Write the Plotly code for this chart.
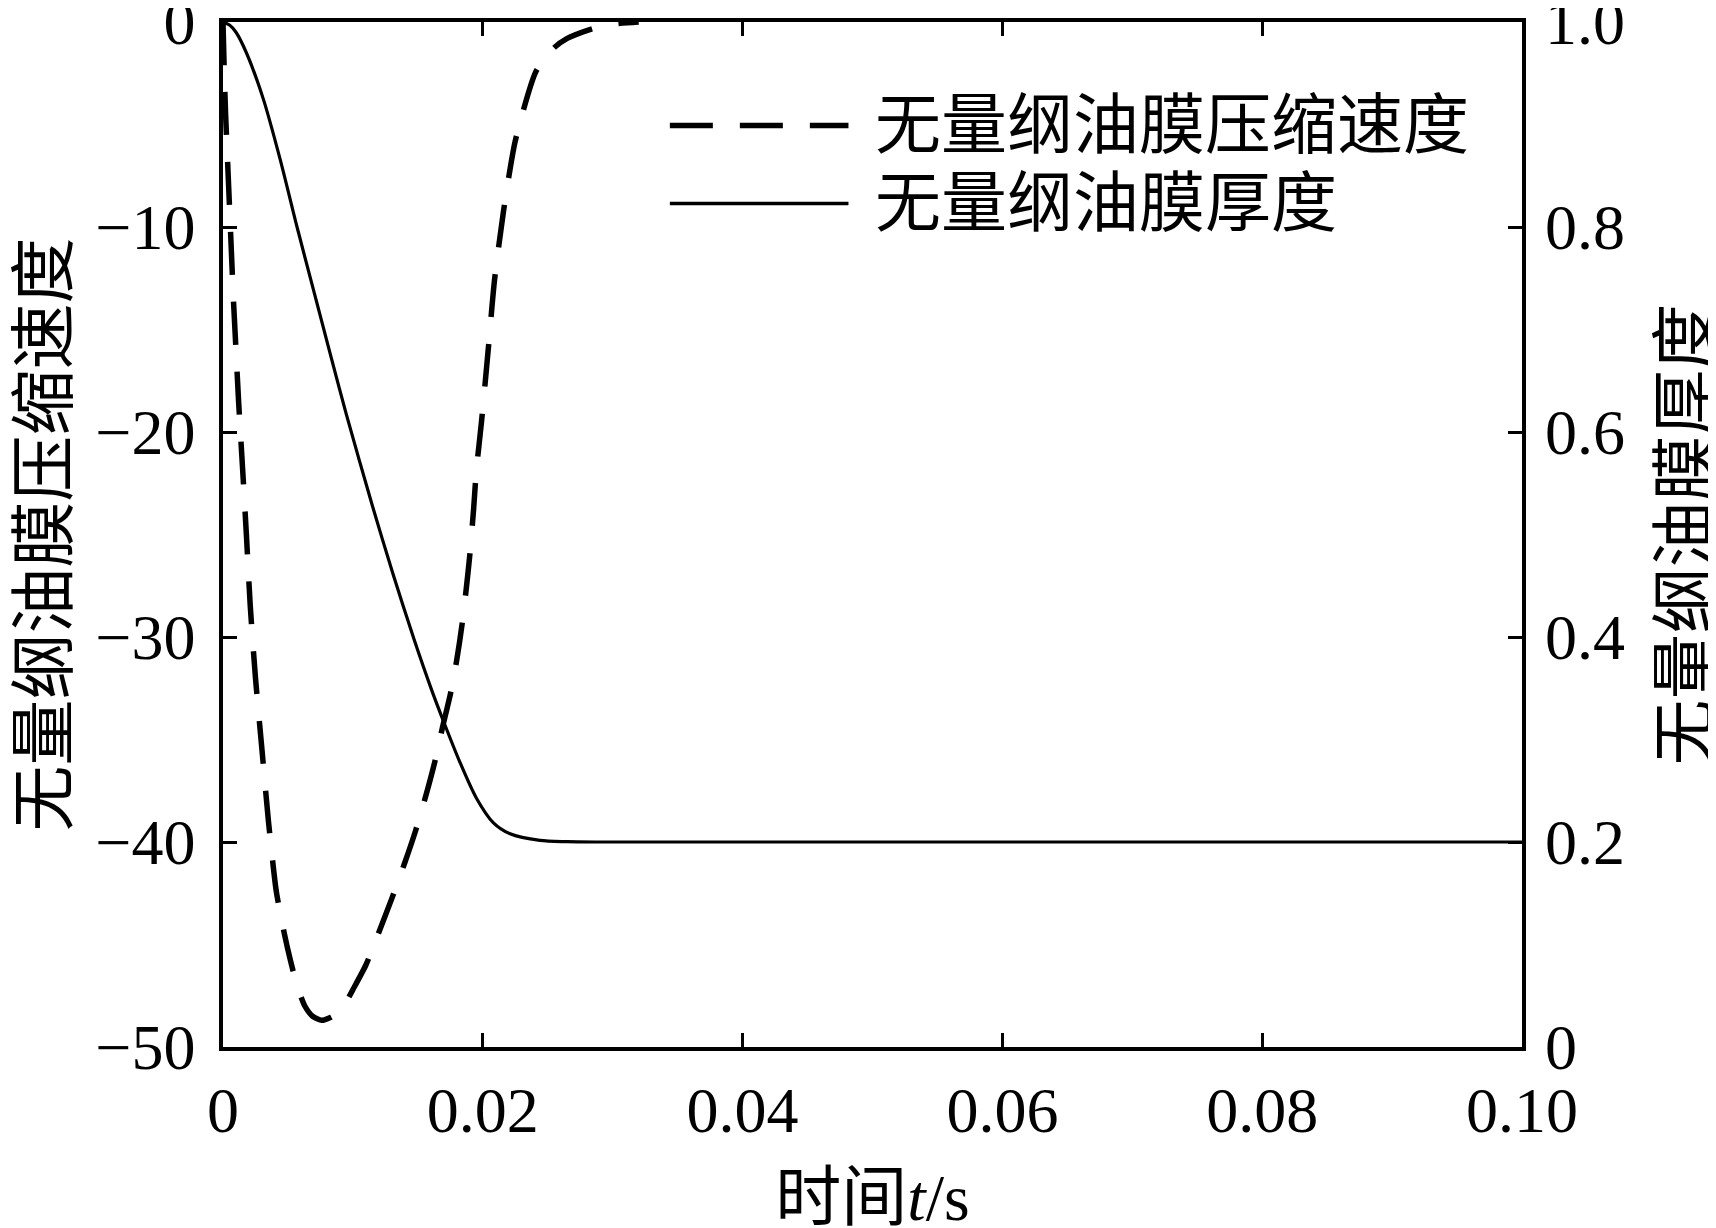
import plotly.graph_objects as go

# 无量纲油膜压缩速度 (左轴); t > 0.03 后曲线与上边框重合
t_speed = [0, 0.0001, 0.0002, 0.0004, 0.0006, 0.0008, 0.001, 0.0012, 0.0015, 0.0018,
           0.0021, 0.0025, 0.003, 0.0035, 0.0041, 0.0047, 0.0052, 0.0057, 0.0063, 0.0069,
           0.0076, 0.0083, 0.0088, 0.0093, 0.01, 0.011, 0.012, 0.013, 0.014, 0.0148,
           0.0155, 0.0163, 0.0169, 0.0175, 0.018, 0.0184, 0.0187, 0.019, 0.0193, 0.0195,
           0.0199, 0.0204, 0.0209, 0.0216, 0.0225, 0.0241, 0.0255, 0.0265, 0.028, 0.0297,
           0.032]
speed = [0, -2.5, -4.5, -7.5, -10.5, -13.5, -16, -18.5, -21.7, -25,
         -28.5, -32, -35.5, -39, -42.4, -44.4, -45.8, -47.0, -48.0, -48.5,
         -48.7, -48.55, -48.35, -48.0, -47.2, -46.0, -44.4, -42.75, -41.0, -39.5,
         -38.0, -36.1, -34.4, -32.8, -31.1, -29.4, -27.8, -26.0, -23.7, -21.9,
         -19.5, -16.1, -12.6, -9.2, -5.8, -2.4, -1.25, -0.8, -0.42, -0.12,
         0]

# 无量纲油膜厚度 (右轴)
t_thick = [0, 0.0005, 0.001, 0.0018, 0.0031, 0.0044, 0.0057, 0.007, 0.0083, 0.0095,
           0.0115, 0.0131, 0.0147, 0.0161, 0.017, 0.0182, 0.0195, 0.0208, 0.0221, 0.0244,
           0.0265, 0.029, 0.035, 0.05, 0.1]
thick = [1.0, 0.997, 0.99, 0.97, 0.925, 0.866, 0.80, 0.737, 0.674, 0.617,
         0.528, 0.461, 0.398, 0.347, 0.317, 0.279, 0.243, 0.219, 0.208, 0.2015,
         0.2003, 0.2, 0.2, 0.2, 0.2]

x_ticks = [0, 0.02, 0.04, 0.06, 0.08, 0.1]
x_labels = ['0', '0.02', '0.04', '0.06', '0.08', '0.10']
y_ticks = [-50, -40, -30, -20, -10, 0]
y_labels = ['−50', '−40', '−30', '−20', '−10', '0']
y2_ticks = [0, 0.2, 0.4, 0.6, 0.8, 1.0]
y2_labels = ['0', '0.2', '0.4', '0.6', '0.8', '1.0']

names = ['无量纲油膜压缩速度', '无量纲油膜厚度']

FONT = 'Liberation Serif, Noto Sans CJK SC'
DASH = '43px,27px'

fig = go.Figure()

fig.add_trace(go.Scatter(
    x=t_speed, y=speed, name=names[0], mode='lines',
    line={'color': 'black', 'width': 5.5, 'dash': DASH, 'shape': 'spline', 'smoothing': 0.6},
    yaxis='y'
))
fig.add_trace(go.Scatter(
    x=t_thick, y=thick, name=names[1], mode='lines',
    line={'color': 'black', 'width': 3.2, 'shape': 'spline', 'smoothing': 0.8},
    yaxis='y2'
))

# 图例 (手动绘制, 线段较长)
legend_rows = [(0.899, DASH, 5.5), (0.823, 'solid', 3.5)]
for (yy, dash, w), name in zip(legend_rows, names):
    fig.add_shape(type='line', xref='paper', yref='paper',
                  x0=0.344, x1=0.4815, y0=yy, y1=yy,
                  line={'color': 'black', 'width': w, 'dash': dash})
    fig.add_annotation(xref='paper', yref='paper', x=0.5, y=yy,
                       text=name, showarrow=False, xanchor='left', yanchor='middle',
                       font={'size': 66, 'family': FONT, 'color': 'black'})

axis_common = dict(
    ticks='inside', ticklen=14, tickwidth=3, tickcolor='black',
    showgrid=False, zeroline=False, ticklabeloverflow='allow', automargin=False,
    tickfont={'size': 64, 'family': FONT, 'color': 'black'},
)

fig.update_layout(
    width=1716, height=1228,
    margin={'l': 215, 'r': 202, 't': 14, 'b': 189},
    plot_bgcolor='white', paper_bgcolor='white',
    showlegend=False,
    font={'family': FONT, 'color': 'black'},
    xaxis=dict(
        range=[0, 0.1], tickvals=x_ticks, ticktext=x_labels,
        showline=True, linewidth=3.5, linecolor='black', mirror='ticks',
        ticklabelstandoff=4,
        title={'text': '时间<i>t</i>/s', 'font': {'size': 66, 'family': FONT}, 'standoff': 30},
        **axis_common
    ),
    yaxis=dict(
        range=[-50, 0], tickvals=y_ticks, ticktext=y_labels,
        showline=True, linewidth=3.5, linecolor='black', mirror=True,
        ticklabelstandoff=11,
        title={'text': names[0], 'font': {'size': 66, 'family': FONT}, 'standoff': 24},
        **axis_common
    ),
    yaxis2=dict(
        range=[0, 1], tickvals=y2_ticks, ticktext=y2_labels,
        overlaying='y', side='right',
        showline=False,
        ticklabelstandoff=22,
        title={'text': names[1], 'font': {'size': 66, 'family': FONT}, 'standoff': 37},
        **axis_common
    ),
)

fig.write_html('out.html')
